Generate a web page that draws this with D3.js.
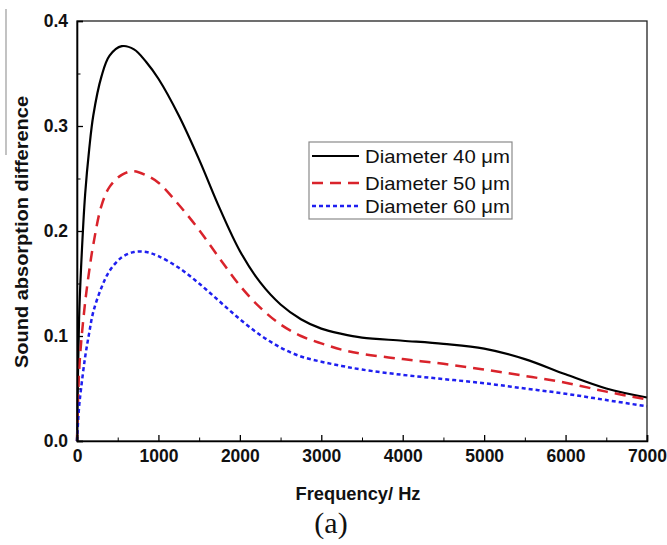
<!DOCTYPE html>
<html>
<head>
<meta charset="utf-8">
<script src="https://cdn.jsdelivr.net/npm/d3@7"></script>
<style>
  body { margin: 0; background: #fff; }
  svg { display: block; font-family: Arial, "Liberation Sans", sans-serif; }
</style>
</head>
<body>
<div id="chart"></div>
<script>
// frequency grid (Hz) shared by the three curves
const freq = [0, 25, 50, 100, 150, 200, 300, 400, 550, 700, 850, 1000, 1250, 1500, 1750,
  2000, 2250, 2500, 2750, 3000, 3250, 3500, 4000, 4500, 5000, 5500, 6000, 6500, 7000];

const d40 = [0, 0.115, 0.165, 0.235, 0.278, 0.310, 0.347, 0.367, 0.376, 0.373, 0.361, 0.345, 0.310, 0.268, 0.222,
  0.181, 0.151, 0.130, 0.116, 0.107, 0.102, 0.0985, 0.0955, 0.0925, 0.088, 0.078, 0.0635, 0.050, 0.0414];
const d50 = [0, 0.065, 0.093, 0.132, 0.162, 0.187, 0.224, 0.242, 0.2535, 0.257, 0.253, 0.246, 0.225, 0.201, 0.174,
  0.148, 0.127, 0.111, 0.100, 0.093, 0.087, 0.083, 0.078, 0.0735, 0.068, 0.062, 0.0555, 0.047, 0.0395];
const d60 = [0, 0.032, 0.050, 0.080, 0.103, 0.123, 0.146, 0.162, 0.175, 0.180, 0.180, 0.176, 0.165, 0.150, 0.133,
  0.116, 0.101, 0.089, 0.0805, 0.0755, 0.0715, 0.068, 0.063, 0.059, 0.055, 0.050, 0.045, 0.039, 0.033];

const seriesNames = ["Diameter 40 \u03bcm", "Diameter 50 \u03bcm", "Diameter 60 \u03bcm"];
const xTicks = [0, 1000, 2000, 3000, 4000, 5000, 6000, 7000];
const yTicks = [0.0, 0.1, 0.2, 0.3, 0.4];

const width = 667, height = 545;
const margin = { top: 21, right: 20, bottom: 104, left: 77 };
const innerW = width - margin.left - margin.right;
const innerH = height - margin.top - margin.bottom;

const styles = [
  { color: "#000000", dash: null, w: 2.2 },
  { color: "#d9232b", dash: "11,7", w: 2.5 },
  { color: "#1f1ff0", dash: "4,3", w: 2.5 }
];

const series = [d40, d50, d60].map((vals, i) => ({
  name: seriesNames[i],
  style: styles[i],
  points: freq.map((f, j) => ({ f, v: vals[j] }))
}));

const svg = d3.select("#chart").append("svg")
  .attr("width", width)
  .attr("height", height);

// stray gray rule at the far left of the scan
svg.append("line")
  .attr("x1", 6).attr("x2", 6).attr("y1", 9).attr("y2", 155)
  .attr("stroke", "#9a9a9a").attr("stroke-width", 1.2);

const g = svg.append("g")
  .attr("transform", `translate(${margin.left},${margin.top})`);

const x = d3.scaleLinear().domain([0, 7000]).range([0, innerW]);
const y = d3.scaleLinear().domain([0, 0.4]).range([innerH, 0]);

// curves
const line = d3.line()
  .x(d => x(d.f))
  .y(d => y(d.v))
  .curve(d3.curveCatmullRom.alpha(0.5));

g.selectAll(".curve")
  .data(series)
  .enter()
  .append("path")
  .attr("class", "curve")
  .attr("d", d => line(d.points))
  .attr("fill", "none")
  .attr("stroke", d => d.style.color)
  .attr("stroke-width", d => d.style.w)
  .attr("stroke-dasharray", d => d.style.dash);

// frame
g.append("rect")
  .attr("width", innerW).attr("height", innerH)
  .attr("fill", "none").attr("stroke", "#222").attr("stroke-width", 1.3);

// minor ticks
g.append("g")
  .attr("transform", `translate(0,${innerH})`)
  .call(d3.axisBottom(x).tickValues(d3.range(500, 7000, 1000)).tickSize(-3.5).tickFormat(""))
  .call(a => a.select(".domain").remove());
g.append("g")
  .call(d3.axisLeft(y).tickValues([0.05, 0.15, 0.25, 0.35]).tickSize(-3.5).tickFormat(""))
  .call(a => a.select(".domain").remove());

// major ticks + labels
const xAxis = g.append("g")
  .attr("transform", `translate(0,${innerH})`)
  .call(d3.axisBottom(x).tickValues(xTicks).tickSize(-6).tickPadding(9).tickFormat(d3.format("d")));
const yAxis = g.append("g")
  .call(d3.axisLeft(y).tickValues(yTicks).tickSize(-6).tickPadding(9).tickFormat(d3.format(".1f")));

[xAxis, yAxis].forEach(a => {
  a.select(".domain").attr("stroke", "#000").attr("stroke-width", 1.6);
  a.selectAll(".tick line").attr("stroke-width", 1.3);
  a.selectAll(".tick text")
    .attr("font-size", 17.5).attr("font-weight", "bold").attr("fill", "#111")
    .attr("font-family", "Arial, 'Liberation Sans', sans-serif");
});
g.selectAll(".tick line").attr("stroke", "#000");

// axis titles
svg.append("text")
  .attr("x", 358).attr("y", 500)
  .attr("text-anchor", "middle")
  .attr("font-size", 19).attr("font-weight", "bold").attr("fill", "#111")
  .attr("textLength", 125).attr("lengthAdjust", "spacingAndGlyphs")
  .text("Frequency/ Hz");

svg.append("text")
  .attr("transform", "translate(28,232) rotate(-90)")
  .attr("text-anchor", "middle")
  .attr("font-size", 19).attr("font-weight", "bold").attr("fill", "#111")
  .attr("textLength", 272).attr("lengthAdjust", "spacingAndGlyphs")
  .text("Sound absorption difference");

svg.append("text")
  .attr("x", 331).attr("y", 533)
  .attr("text-anchor", "middle")
  .attr("font-family", "'Liberation Serif', 'DejaVu Serif', serif")
  .attr("font-size", 30).attr("fill", "#111")
  .text("(a)");

// legend
const legend = svg.append("g").attr("transform", "translate(309,142)");
legend.append("rect")
  .attr("width", 203).attr("height", 77)
  .attr("fill", "#fff").attr("stroke", "#8a8a8a").attr("stroke-width", 1.2);

const item = legend.selectAll(".legend-item")
  .data(series)
  .enter()
  .append("g")
  .attr("class", "legend-item")
  .attr("transform", (d, i) => `translate(0,${[14, 41, 64][i]})`);

item.append("line")
  .attr("x1", 3).attr("x2", 50)
  .attr("stroke", d => d.style.color)
  .attr("stroke-width", d => d.style.w)
  .attr("stroke-dasharray", d => d.style.dash);

item.append("text")
  .attr("x", 56).attr("y", 7)
  .attr("font-size", 19).attr("fill", "#111")
  .attr("textLength", 145).attr("lengthAdjust", "spacingAndGlyphs")
  .text(d => d.name);
</script>
</body>
</html>
